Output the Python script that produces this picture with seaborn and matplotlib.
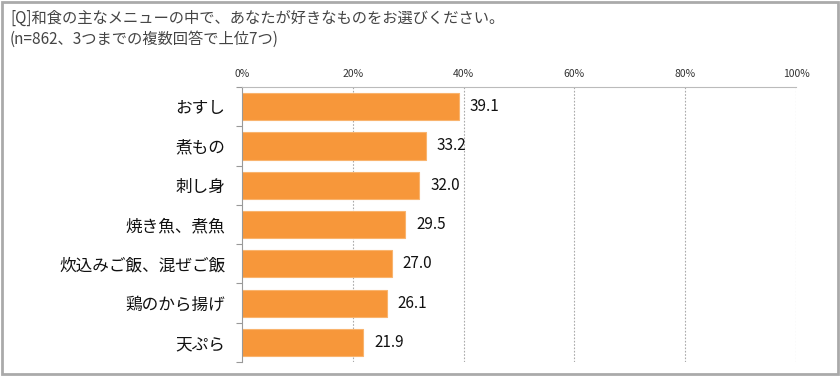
import pandas as pd
import numpy as np
import matplotlib.pyplot as plt
import seaborn as sns
from matplotlib.patches import Rectangle
from matplotlib.ticker import FixedLocator

# ================= DADOS =================
menus = ["おすし", "煮もの", "刺し身", "焼き魚、煮魚", "炊込みご飯、混ぜご飯", "鶏のから揚げ", "天ぷら"]
valores = [39.1, 33.2, 32.0, 29.5, 27.0, 26.1, 21.9]
ticks_x = [0, 20, 40, 60, 80, 100]
tick_labels = ["0%", "20%", "40%", "60%", "80%", "100%"]
titulo = "[Q]和食の主なメニューの中で、あなたが好きなものをお選びください。\n(n=862、3つまでの複数回答で上位7つ)"

sns.set_style("white")
plt.rcParams['font.family'] = ['Noto Sans CJK JP', 'DejaVu Sans']

df = pd.DataFrame({"menu": menus, "valor": valores})

fig = plt.figure(figsize=(8.4, 3.76), dpi=100)
ax = fig.add_axes([0.288, 0.037, 0.6596, 0.7316])

sns.barplot(data=df, x="valor", y="menu", orient="h", color="#F7973A",
            saturation=1, width=0.69, edgecolor="#F9B46E", linewidth=0.8, ax=ax)

ax.set_xlim(0, 100)
ax.set_ylim(len(menus) - 0.5, -0.5)
ax.xaxis.tick_top()
ax.set_xticks(ticks_x)
ax.set_xticklabels(tick_labels, fontsize=7.5, color="#333333")
ax.tick_params(axis="x", length=0, pad=6)
ax.tick_params(axis="y", length=0, pad=12, labelsize=12)
for lbl in ax.get_yticklabels():
    lbl.set_color("#111111")
ax.yaxis.set_minor_locator(FixedLocator(np.arange(-0.5, len(menus), 1)))
ax.tick_params(axis="y", which="minor", left=True, length=4, color="#999999", width=0.8)
ax.set_xlabel("")
ax.set_ylabel("")

for x in ticks_x[1:]:
    ax.axvline(x, color="#AAAAAA", linestyle=(0, (1.5, 1.5)), linewidth=0.8, zorder=0)

for s in ["bottom", "right"]:
    ax.spines[s].set_visible(False)
ax.spines["top"].set_color("#BBBBBB")
ax.spines["top"].set_linewidth(0.8)
ax.spines["left"].set_color("#999999")
ax.spines["left"].set_linewidth(0.8)

for i, v in enumerate(valores):
    ax.text(v + 2.0, i, f"{v:.1f}", va="center", ha="left", fontsize=11, color="#111111")

fig.text(0.012, 0.975, titulo, ha="left", va="top", fontsize=11, color="#444444", linespacing=1.35)

fig.patches.append(Rectangle((0.002, 0.004), 0.996, 0.992, transform=fig.transFigure,
                             fill=False, edgecolor="#AAAAAA", linewidth=2))

fig.savefig("out.png", dpi=100)
